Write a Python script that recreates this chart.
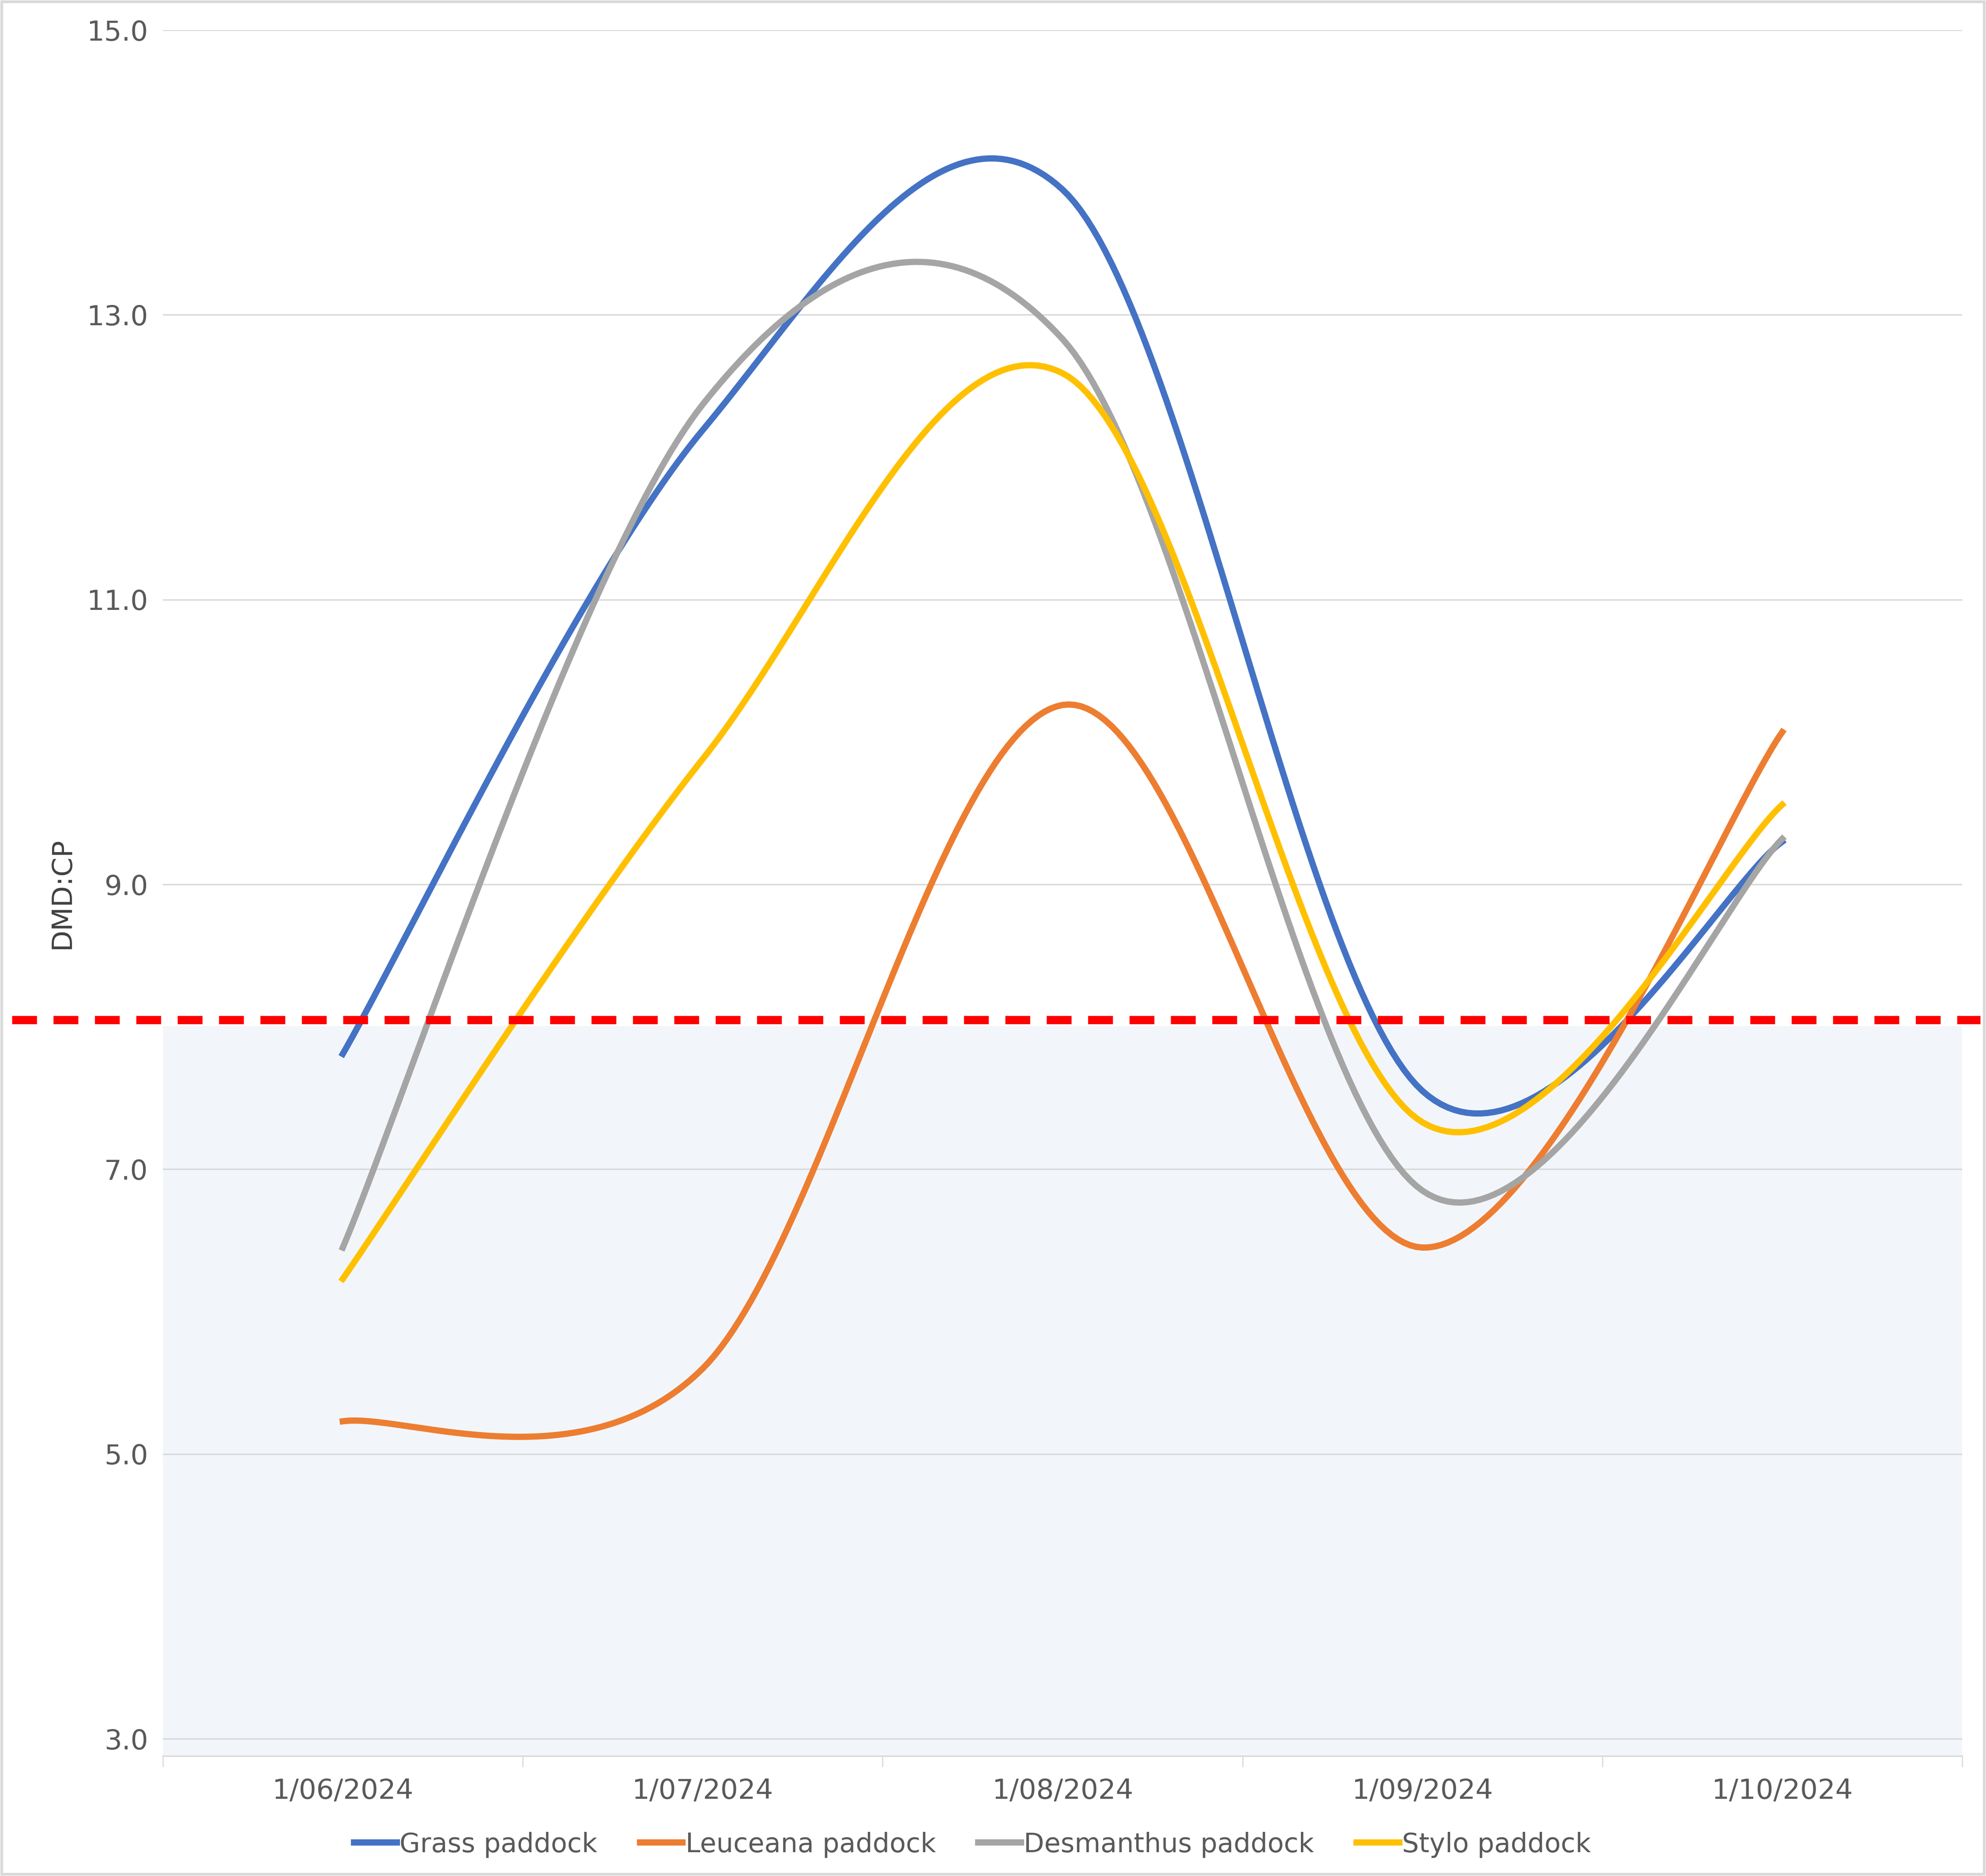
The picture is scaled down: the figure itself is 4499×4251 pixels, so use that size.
import numpy as np, pandas as pd, seaborn as sns, matplotlib
matplotlib.use("Agg")
import matplotlib.pyplot as plt

dates = ["1/06/2024", "1/07/2024", "1/08/2024", "1/09/2024", "1/10/2024"]
grass = [7.81, 12.19, 13.88, 7.55, 9.30]
leuceana = [5.23, 5.60, 10.26, 6.45, 10.07]
desmanthus = [6.45, 12.37, 12.83, 6.85, 9.32]
stylo = [6.23, 9.88, 12.59, 7.33, 9.56]
threshold = 8.05
series = {"Grass paddock": grass, "Leuceana paddock": leuceana,
          "Desmanthus paddock": desmanthus, "Stylo paddock": stylo}
colors = ["#4472C4", "#ED7D31", "#A5A5A5", "#FFC000"]

def smooth(y, n=60):
    x = np.arange(len(y), dtype=float); y = np.asarray(y, float)
    P = np.column_stack([x, y]); out = []
    for i in range(len(P) - 1):
        p0 = P[max(i - 1, 0)]; p1 = P[i]; p2 = P[i + 1]; p3 = P[min(i + 2, len(P) - 1)]
        c1 = p1 + (p2 - p0) / 6; c2 = p2 - (p3 - p1) / 6
        t = np.linspace(0, 1, n)[:, None]
        out.append((1-t)**3*p1 + 3*(1-t)**2*t*c1 + 3*(1-t)*t**2*c2 + t**3*p2)
    return np.vstack(out)

rows = []
for name, vals in series.items():
    pts = smooth(vals)
    for k, (xx, yy) in enumerate(pts):
        rows.append((name, k, xx, yy))
df = pd.DataFrame(rows, columns=["series", "k", "x", "y"])

fig = plt.figure(figsize=(4499/300, 4251/300), dpi=300)
ax = fig.add_axes([0.082, 0.064, 0.906, 0.920])
ax.axhspan(2.88, 8.0, color="#F2F6FB", zorder=0)
sns.lineplot(data=df, x="x", y="y", hue="series", palette=colors, sort=False,
             estimator=None, units="series", lw=3.4, ax=ax, zorder=3)
ax.plot([-0.92, 4.55], [threshold, threshold], color="#FF0000", lw=4.5,
        ls=(0, (3, 2)), zorder=4, clip_on=False)
ax.set_xlim(-0.5, 4.5); ax.set_ylim(2.88, 15.0)
ax.set_yticks(np.arange(3, 15.1, 2))
ax.set_yticklabels([f"{v:.1f}" for v in np.arange(3, 15.1, 2)], fontsize=15, color="#595959")
ax.set_xticks(range(5)); ax.set_xticklabels(dates, fontsize=15, color="#595959")
ax.set_xticks(np.arange(-0.5, 4.6, 1), minor=True)
ax.tick_params(axis="x", which="major", length=0, pad=12)
ax.tick_params(axis="x", which="minor", length=6, color="#D9D9D9")
ax.tick_params(axis="y", length=0, pad=8)
ax.grid(axis="y", color="#D9D9D9", lw=0.8); ax.set_axisbelow(True)
for s in ["top", "right", "left"]: ax.spines[s].set_visible(False)
ax.spines["bottom"].set_color("#D9D9D9")
ax.set_xlabel(""); ax.set_ylabel("DMD:CP", fontsize=15, color="#404040", labelpad=6)
ax.legend(loc="upper center", bbox_to_anchor=(0.45, -0.03), ncol=4, frameon=False,
          fontsize=14.5, handlelength=1.6, handletextpad=0.1, columnspacing=1.6,
          labelcolor="#595959")
fig.patches.append(plt.Rectangle((0.001, 0.001), 0.998, 0.998, transform=fig.transFigure,
                                 fill=False, ec="#D9D9D9", lw=1.5))
fig.savefig("out.png", dpi=300, facecolor="white")
